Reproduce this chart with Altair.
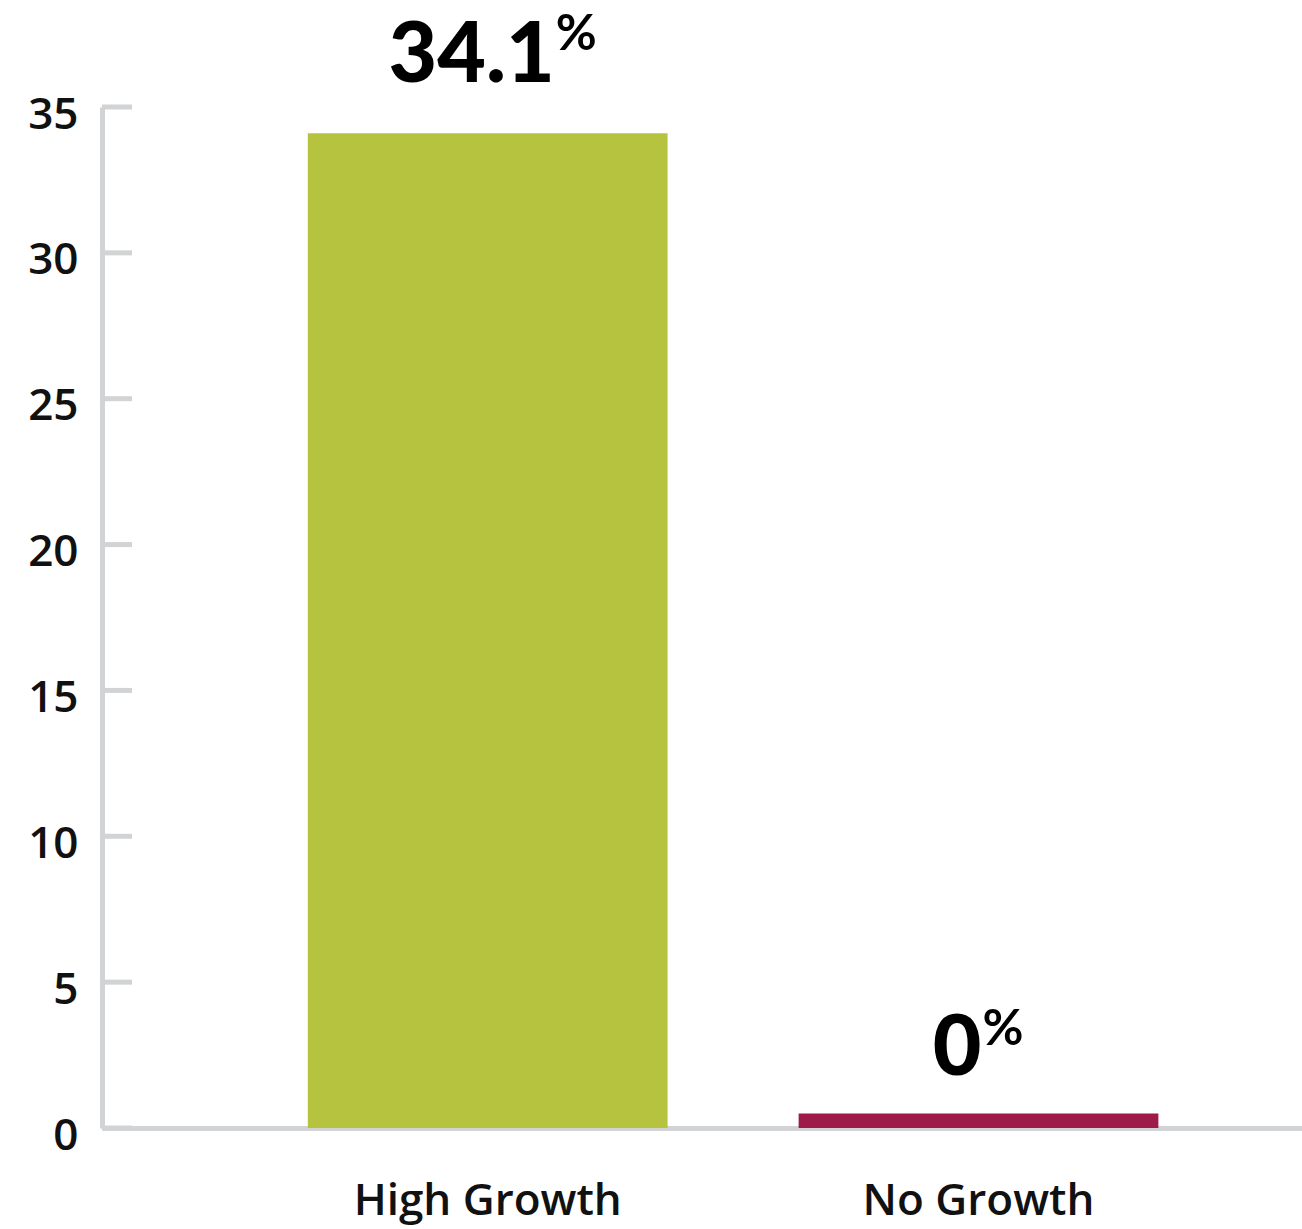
import altair as alt
import pandas as pd

# ---- data ----
categories = ["High Growth", "No Growth"]
values = [34.1, 0.5]          # drawn bar heights (the "0%" bar shows a thin stub)
value_labels = ["34.1", "0"]
pct_labels = ["%", "%"]
bar_colors = ["#b5c33e", "#9e1a48"]
y_ticks = [0, 5, 10, 15, 20, 25, 30, 35]

# label placement (style, per bar): offsets from bar centre / bar top
num_dx = [67, 3]
num_dy = [-51, -38]
pct_dy = [-83, -68]

AXIS_GREY = "#d1d3d4"

df = pd.DataFrame({"category": categories, "value": values,
                   "label": value_labels, "pct": pct_labels})
ticks_df = pd.DataFrame({"tick": y_ticks})

x_enc = alt.X(
    "category:N", sort=categories,
    scale=alt.Scale(paddingInner=0.267, paddingOuter=0.356, align=0.589),
    axis=alt.Axis(title=None, labelAngle=0, ticks=False, tickSize=0,
                  domainColor=AXIS_GREY, domainWidth=5, labelLimit=0,
                  labelFont="Open Sans", labelFontSize=44, labelFontWeight=600,
                  labelColor="#111111", labelPadding=51),
)
y_enc = alt.Y(
    "value:Q",
    scale=alt.Scale(domain=[0, 35], nice=False),
    axis=alt.Axis(title=None, values=y_ticks, ticks=False, tickSize=0, grid=False,
                  domainColor=AXIS_GREY, domainWidth=5,
                  labelFont="Open Sans", labelFontSize=44, labelFontWeight=600,
                  labelColor="#111111", labelPadding=24, labelOffset=8),
)

bars = alt.Chart(df).mark_bar().encode(
    x=x_enc, y=y_enc,
    color=alt.Color("category:N", scale=alt.Scale(domain=categories, range=bar_colors),
                    legend=None),
)

tick_rules = alt.Chart(ticks_df).mark_rule(color=AXIS_GREY, strokeWidth=5).encode(
    y=alt.Y("tick:Q"),
    x=alt.value(0), x2=alt.value(30),
)

layers = [tick_rules, bars]
for i, cat in enumerate(categories):
    base = alt.Chart(df).transform_filter(alt.datum.category == cat)
    num = base.mark_text(font="Lato", fontSize=84, fontWeight=900, color="#000000",
                         align="right", baseline="alphabetic",
                         dx=num_dx[i], dy=num_dy[i]).encode(
        x=alt.X("category:N", sort=categories), y=alt.Y("value:Q"), text="label:N")
    pct = base.mark_text(font="Lato", fontSize=50, fontWeight="bold", color="#000000",
                         align="left", baseline="alphabetic",
                         dx=num_dx[i] + 1, dy=pct_dy[i]).encode(
        x=alt.X("category:N", sort=categories), y=alt.Y("value:Q"), text="pct:N")
    layers += [num, pct]

chart = alt.layer(*layers).properties(
    width=1200, height=1021,
    autosize=alt.AutoSizeParams(type="none"),
    padding={"left": 102, "top": 107, "right": 0, "bottom": 101},
    background="white",
).configure_view(stroke=None)

chart.save("out.html", embed_options={"renderer": "svg", "actions": False})
